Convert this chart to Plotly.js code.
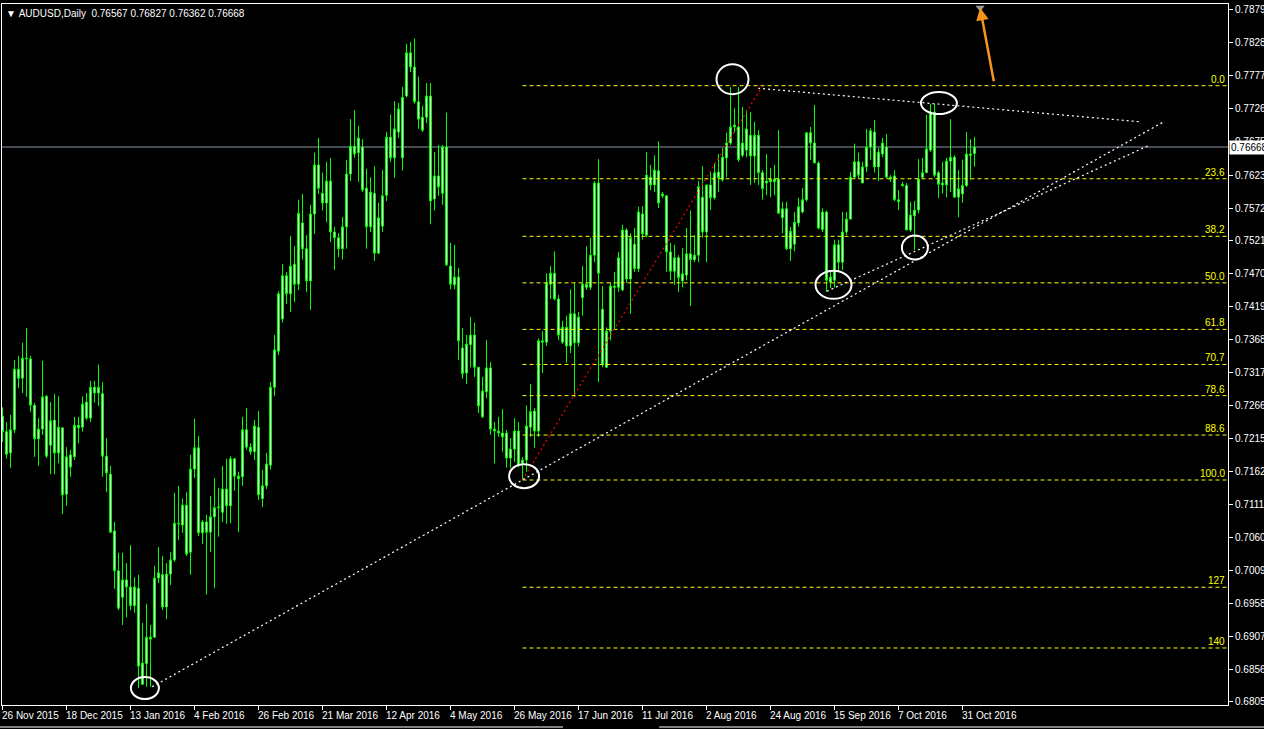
<!DOCTYPE html>
<html><head><meta charset="utf-8">
<script src="https://cdn.plot.ly/plotly-3.0.1.min.js"></script>
<style>html,body{margin:0;padding:0;background:#000;overflow:hidden}#chart{width:1264px;height:729px}</style>
</head><body><div id="chart"></div>
<script>
const symbolName = 'AUDUSD,Daily';
const tickBars = [0,16,32,48,64,80,96,112,128,144,160,176,192,208,224,240];
const tickLabels = ['26 Nov 2015','18 Dec 2015','13 Jan 2016','4 Feb 2016','26 Feb 2016','21 Mar 2016','12 Apr 2016','4 May 2016','26 May 2016','17 Jun 2016','11 Jul 2016','2 Aug 2016','24 Aug 2016','15 Sep 2016','7 Oct 2016','31 Oct 2016'];
const priceTicks = [0.78795,0.78285,0.77775,0.77265,0.76755,0.76230,0.75720,0.75210,0.74700,0.74190,0.73680,0.73170,0.72660,0.72150,0.71625,0.71115,0.70605,0.70095,0.69585,0.69075,0.68565,0.68055];

const openP = [0.7249,0.7225,0.7192,0.7228,0.7322,0.7308,0.7338,0.7338,0.7266,0.7214,
0.7229,0.7280,0.7204,0.7243,0.7192,0.7231,0.7128,0.7189,0.7186,0.7231,
0.7232,0.7271,0.7246,0.7294,0.7285,0.7284,0.7187,0.7159,0.7071,0.7009,
0.6968,0.6995,0.6984,0.6955,0.6982,0.6833,0.6865,0.6906,0.6906,0.6998,
0.7003,0.6953,0.7004,0.7026,0.7083,0.7080,0.7111,0.7038,0.7167,0.7200,
0.7068,0.7085,0.7069,0.7093,0.7107,0.7100,0.7136,0.7110,0.7183,0.7156,
0.7155,0.7228,0.7201,0.7194,0.7232,0.7121,0.7141,0.7173,0.7294,0.7350,
0.7400,0.7467,0.7439,0.7485,0.7454,0.7549,0.7509,0.7459,0.7563,0.7639,
0.7595,0.7580,0.7614,0.7535,0.7526,0.7509,0.7543,0.7625,0.7668,0.7658,
0.7667,0.7603,0.7543,0.7595,0.7502,0.7544,0.7592,0.7682,0.7650,0.7690,
0.7650,0.7746,0.7813,0.7791,0.7737,0.7713,0.7713,0.7746,0.7586,0.7622,
0.7595,0.7667,0.7482,0.7453,0.7465,0.7355,0.7316,0.7360,0.7375,0.7325,
0.7248,0.7287,0.7324,0.7229,0.7226,0.7223,0.7223,0.7184,0.7198,0.7226,
0.7176,0.7181,0.7232,0.7257,0.7226,0.7366,0.7364,0.7454,0.7471,0.7431,
0.7364,0.7387,0.7358,0.7408,0.7363,0.7433,0.7449,0.7449,0.7499,0.7611,
0.7415,0.7325,0.7381,0.7451,0.7449,0.7445,0.7538,0.7462,0.7516,0.7478,
0.7563,0.7530,0.7620,0.7608,0.7630,0.7591,0.7591,0.7504,0.7474,0.7495,
0.7459,0.7468,0.7501,0.7492,0.7499,0.7589,0.7535,0.7608,0.7588,0.7628,
0.7616,0.7650,0.7673,0.7698,0.7698,0.7654,0.7662,0.7685,0.7653,0.7685,
0.7627,0.7611,0.7613,0.7617,0.7617,0.7557,0.7571,0.7509,0.7516,0.7549,
0.7566,0.7585,0.7689,0.7673,0.7642,0.7539,0.7566,0.7457,0.7460,0.7515,
0.7488,0.7535,0.7555,0.7620,0.7644,0.7611,0.7636,0.7667,0.7690,0.7636,
0.7656,0.7667,0.7620,0.7622,0.7585,0.7609,0.7607,0.7538,0.7560,0.7569,
0.7620,0.7627,0.7662,0.7721,0.7627,0.7608,0.7608,0.7645,0.7651,0.7589,
0.7594,0.7607,0.7656,0.76567];
const highP = [0.7263,0.7240,0.7251,0.7336,0.7343,0.7363,0.7386,0.7343,0.7270,0.7246,
0.7335,0.7282,0.7271,0.7284,0.7280,0.7231,0.7201,0.7197,0.7248,0.7248,
0.7280,0.7285,0.7304,0.7304,0.7329,0.7302,0.7215,0.7172,0.7085,0.7037,
0.7037,0.7021,0.7049,0.6999,0.7003,0.6928,0.6958,0.6925,0.7017,0.7046,
0.7032,0.7021,0.7038,0.7130,0.7141,0.7121,0.7131,0.7189,0.7245,0.7218,
0.7088,0.7096,0.7125,0.7153,0.7138,0.7172,0.7183,0.7187,0.7184,0.7163,
0.7248,0.7262,0.7207,0.7243,0.7257,0.7166,0.7192,0.7302,0.7375,0.7443,
0.7485,0.7473,0.7529,0.7513,0.7585,0.7594,0.7530,0.7577,0.7658,0.7681,
0.7627,0.7644,0.7650,0.7543,0.7533,0.7558,0.7647,0.7710,0.7724,0.7700,
0.7679,0.7633,0.7620,0.7637,0.7580,0.7631,0.7690,0.7717,0.7738,0.7735,
0.7760,0.7827,0.7830,0.7835,0.7776,0.7731,0.7766,0.7766,0.7659,0.7670,
0.7670,0.7720,0.7518,0.7515,0.7479,0.7386,0.7375,0.7403,0.7394,0.7325,
0.7310,0.7367,0.7333,0.7240,0.7248,0.7260,0.7228,0.7215,0.7246,0.7240,
0.7186,0.7266,0.7299,0.7262,0.7370,0.7381,0.7471,0.7482,0.7505,0.7437,
0.7397,0.7405,0.7446,0.7456,0.7411,0.7482,0.7513,0.7526,0.7614,0.7648,
0.7451,0.7387,0.7457,0.7473,0.7504,0.7546,0.7541,0.7533,0.7541,0.7574,
0.7575,0.7659,0.7639,0.7654,0.7676,0.7597,0.7592,0.7518,0.7515,0.7499,
0.7510,0.7541,0.7568,0.7530,0.7614,0.7637,0.7608,0.7628,0.7642,0.7656,
0.7665,0.7689,0.7760,0.7727,0.7760,0.7729,0.7724,0.7721,0.7706,0.7693,
0.7631,0.7656,0.7634,0.7639,0.7693,0.7582,0.7582,0.7543,0.7566,0.7588,
0.7603,0.7690,0.7698,0.7732,0.7645,0.7572,0.7568,0.7476,0.7523,0.7523,
0.7566,0.7566,0.7628,0.7672,0.7658,0.7644,0.7695,0.7696,0.7709,0.7665,
0.7681,0.7687,0.7623,0.7631,0.7600,0.7613,0.7611,0.7582,0.7583,0.7648,
0.7650,0.7717,0.7734,0.7734,0.7630,0.7644,0.7650,0.7710,0.7654,0.7631,
0.7647,0.7690,0.7679,0.76827];
const lowP = [0.7209,0.7183,0.7169,0.7223,0.7293,0.7285,0.7279,0.7256,0.7186,0.7172,
0.7220,0.7184,0.7159,0.7159,0.7176,0.7097,0.7110,0.7155,0.7181,0.7207,
0.7225,0.7243,0.7240,0.7270,0.7265,0.7155,0.7131,0.7068,0.6981,0.6948,
0.6925,0.6937,0.6948,0.6944,0.6827,0.6832,0.6829,0.6829,0.6905,0.6990,
0.6948,0.6934,0.6987,0.7023,0.7057,0.7068,0.7032,0.7003,0.7153,0.7063,
0.7051,0.6972,0.7038,0.6982,0.7062,0.7085,0.7082,0.7083,0.7133,0.7069,
0.7141,0.7197,0.7189,0.7181,0.7119,0.7108,0.7136,0.7166,0.7280,0.7344,
0.7394,0.7423,0.7411,0.7426,0.7445,0.7492,0.7442,0.7414,0.7532,0.7594,
0.7568,0.7550,0.7519,0.7476,0.7496,0.7492,0.7509,0.7614,0.7650,0.7613,
0.7597,0.7509,0.7535,0.7490,0.7501,0.7535,0.7583,0.7644,0.7619,0.7681,
0.7630,0.7744,0.7783,0.7734,0.7695,0.7690,0.7704,0.7547,0.7568,0.7591,
0.7577,0.7482,0.7446,0.7446,0.7336,0.7307,0.7299,0.7325,0.7310,0.7254,
0.7246,0.7277,0.7220,0.7176,0.7217,0.7194,0.7169,0.7169,0.7178,0.7170,
0.7150,0.7163,0.7217,0.7200,0.7217,0.7316,0.7358,0.7431,0.7429,0.7367,
0.7361,0.7332,0.7347,0.7279,0.7357,0.7405,0.7445,0.7445,0.7488,0.7302,
0.7325,0.7324,0.7367,0.7383,0.7442,0.7443,0.7456,0.7408,0.7473,0.7473,
0.7523,0.7527,0.7600,0.7597,0.7572,0.7588,0.7473,0.7460,0.7453,0.7442,
0.7449,0.7460,0.7420,0.7488,0.7488,0.7526,0.7488,0.7569,0.7585,0.7597,
0.7613,0.7620,0.7670,0.7689,0.7644,0.7651,0.7651,0.7608,0.7611,0.7608,
0.7585,0.7592,0.7589,0.7592,0.7564,0.7533,0.7507,0.7490,0.7505,0.7543,
0.7564,0.7582,0.7647,0.7642,0.7539,0.7535,0.7442,0.7448,0.7449,0.7473,
0.7476,0.7530,0.7554,0.7620,0.7617,0.7611,0.7628,0.7647,0.7627,0.7614,
0.7651,0.7619,0.7613,0.7583,0.7569,0.7605,0.7538,0.7535,0.7507,0.7564,
0.7617,0.7627,0.7659,0.7620,0.7588,0.7595,0.7589,0.7597,0.7588,0.7558,
0.7580,0.7605,0.7616,0.76362];
const closeP = [0.7225,0.7190,0.7228,0.7322,0.7308,0.7339,0.7339,0.7266,0.7214,0.7229,
0.7279,0.7187,0.7242,0.7192,0.7232,0.7127,0.7186,0.7170,0.7235,0.7235,
0.7268,0.7246,0.7294,0.7285,0.7294,0.7187,0.7161,0.7069,0.7009,0.6951,
0.6995,0.6984,0.6955,0.6984,0.6861,0.6866,0.6906,0.6903,0.6998,0.7006,
0.6953,0.7004,0.7026,0.7083,0.7082,0.7111,0.7035,0.7167,0.7200,0.7068,
0.7085,0.7069,0.7093,0.7107,0.7108,0.7136,0.7110,0.7183,0.7156,0.7152,
0.7228,0.7201,0.7194,0.7234,0.7127,0.7141,0.7175,0.7294,0.7352,0.7439,
0.7467,0.7439,0.7482,0.7454,0.7564,0.7509,0.7459,0.7563,0.7639,0.7603,
0.7580,0.7614,0.7535,0.7526,0.7509,0.7543,0.7625,0.7668,0.7656,0.7681,
0.7600,0.7543,0.7597,0.7502,0.7557,0.7591,0.7682,0.7650,0.7695,0.7726,
0.7744,0.7813,0.7791,0.7737,0.7710,0.7693,0.7746,0.7583,0.7622,0.7605,
0.7667,0.7484,0.7454,0.7465,0.7366,0.7315,0.7361,0.7375,0.7325,0.7265,
0.7288,0.7324,0.7229,0.7226,0.7223,0.7217,0.7184,0.7198,0.7226,0.7173,
0.7181,0.7234,0.7256,0.7226,0.7366,0.7364,0.7456,0.7471,0.7431,0.7375,
0.7387,0.7358,0.7408,0.7363,0.7403,0.7454,0.7454,0.7499,0.7611,0.7471,
0.7329,0.7381,0.7451,0.7449,0.7495,0.7538,0.7462,0.7526,0.7478,0.7566,
0.7532,0.7623,0.7608,0.7631,0.7580,0.7594,0.7504,0.7474,0.7495,0.7464,
0.7470,0.7501,0.7492,0.7499,0.7605,0.7535,0.7608,0.7588,0.7627,0.7619,
0.7651,0.7673,0.7698,0.7701,0.7647,0.7673,0.7695,0.7653,0.7685,0.7627,
0.7602,0.7614,0.7617,0.7613,0.7564,0.7571,0.7509,0.7536,0.7550,0.7574,
0.7585,0.7689,0.7673,0.7642,0.7541,0.7566,0.7460,0.7465,0.7515,0.7488,
0.7535,0.7555,0.7620,0.7644,0.7623,0.7636,0.7667,0.7692,0.7636,0.7659,
0.7673,0.7620,0.7617,0.7585,0.7582,0.7607,0.7538,0.7561,0.7569,0.7617,
0.7627,0.7664,0.7721,0.7623,0.7609,0.7611,0.7645,0.7651,0.7589,0.7602,
0.7607,0.7656,0.7654,0.76668];

// Fibonacci retracement drawn on the chart (anchor bar index, price)
const fibLowBar = 130, fibLowPrice = 0.7150;
const fibHighBar = 190, fibHighPrice = 0.7762;
const fibRatios = [0, 0.236, 0.382, 0.5, 0.618, 0.707, 0.786, 0.886, 1.0, 1.272, 1.426];
const fibLabels = ['0.0','23.6','38.2','50.0','61.8','70.7','78.6','88.6','100.0','127','140'];

// Trend lines: [bar0, price0, bar1, price1]
const trendLines = [
  [37.4, 0.6829, 290.6, 0.7707],
  [206.1, 0.7443, 286.9, 0.7670],
  [188.9, 0.7758, 284.4, 0.7706]
];
// Marked swing points: [bar, price, radiusX px, radiusY px]
const swingMarks = [
  [35.6, 0.6827, 14, 11],
  [130.4, 0.7156, 15, 12],
  [182.5, 0.7772, 16, 15],
  [207.75, 0.7453, 18, 14],
  [234.1, 0.7735, 18, 11],
  [228.1, 0.7511, 13, 12]
];
// Arrow tip [bar, price]
const arrowTip = [244.4, 0.7883];

const n = closeP.length;
const bars = closeP.map((_, i) => i);
const xRange = [-0.125, 306.375];
const yRange = [0.68008, 0.78888];
const lastClose = closeP[n - 1];
const FONT = 'Liberation Sans, Arial, sans-serif';

const candle = {
  type: 'candlestick', x: bars, open: openP, high: highP, low: lowP, close: closeP,
  increasing: {line: {color: '#00ff00', width: 1}, fillcolor: '#ffffff'},
  decreasing: {line: {color: '#00ff00', width: 1}, fillcolor: '#ffffff'},
  whiskerwidth: 0, hoverinfo: 'skip', showlegend: false
};
const marker = {
  type: 'scatter', mode: 'markers', x: [arrowTip[0]], y: [arrowTip[1]], cliponaxis: false,
  marker: {symbol: 'triangle-down', size: 8, color: '#9a9a9a'}, hoverinfo: 'skip', showlegend: false
};

const shapes = [];
const annotations = [];

// current price line
shapes.push({type: 'line', xref: 'paper', x0: 0, x1: 1, yref: 'y', y0: lastClose, y1: lastClose,
  line: {color: '#8a98aa', width: 1}, layer: 'below'});

// fib levels
const fibRange = fibHighPrice - fibLowPrice;
fibRatios.forEach((r, k) => {
  const p = fibHighPrice - r * fibRange;
  shapes.push({type: 'line', xref: 'x', x0: fibLowBar, x1: xRange[1], yref: 'y', y0: p, y1: p,
    line: {color: '#ffff00', width: 1, dash: '4px,3px'}});
  annotations.push({xref: 'paper', x: 1, xanchor: 'right', xshift: -2, yref: 'y', y: p, yanchor: 'bottom',
    text: fibLabels[k], showarrow: false, font: {family: FONT, size: 10, color: '#ffff00'}, borderpad: 0});
});
// fib anchor diagonal
shapes.push({type: 'line', xref: 'x', yref: 'y', x0: fibLowBar, y0: fibLowPrice, x1: fibHighBar, y1: fibHighPrice,
  line: {color: '#ff0000', width: 1.2, dash: '2px,3px'}});

// trend lines
trendLines.forEach(t => shapes.push({type: 'line', xref: 'x', yref: 'y', x0: t[0], y0: t[1], x1: t[2], y1: t[3],
  line: {color: '#ffffff', width: 1.2, dash: '2px,3px'}}));

// circles
swingMarks.forEach(c => shapes.push({type: 'circle', xref: 'x', yref: 'y', xsizemode: 'pixel', ysizemode: 'pixel',
  xanchor: c[0], yanchor: c[1], x0: -c[2], x1: c[2], y0: -c[3], y1: c[3],
  line: {color: '#ffffff', width: 2}}));

// window bottom border
shapes.push({type: 'line', xref: 'paper', yref: 'paper', x0: -0.002, x1: 0.4576, y0: -0.0314, y1: -0.0314, line: {color: '#ffffff', width: 1}});
shapes.push({type: 'line', xref: 'paper', yref: 'paper', x0: 0.536, x1: 1.03, y0: -0.0314, y1: -0.0314, line: {color: '#ffffff', width: 1}});

// arrow
annotations.push({xref: 'x', yref: 'y', x: arrowTip[0], y: arrowTip[1], ax: 14, ay: 75, axref: 'pixel', ayref: 'pixel',
  showarrow: true, arrowhead: 2, arrowsize: 1, arrowwidth: 2.5, arrowcolor: '#f7941d', text: ''});

// header
annotations.push({xref: 'paper', yref: 'paper', x: 0, y: 1, xanchor: 'left', yanchor: 'top', xshift: 3, yshift: -3,
  text: '\u25BC\u00a0' + symbolName + '\u00a0\u00a0' + [openP[n-1], highP[n-1], lowP[n-1], closeP[n-1]].map(v => v.toFixed(5)).join(' '),
  showarrow: false, font: {family: FONT, size: 10, color: '#ffffff'}, borderpad: 0});

// current price box on axis
annotations.push({xref: 'paper', x: 1, xanchor: 'left', xshift: 1, yref: 'y', y: lastClose, yanchor: 'middle',
  text: lastClose.toFixed(5), showarrow: false, bgcolor: '#ffffff', font: {family: FONT, size: 10, color: '#000000'}, borderpad: 1});

// date labels, left aligned on their ticks
tickBars.forEach((b, k) => annotations.push({xref: 'x', x: b, xanchor: 'left', xshift: -2, yref: 'paper', y: 0, yanchor: 'top', yshift: -4,
  text: tickLabels[k], showarrow: false, font: {family: FONT, size: 10, color: '#ffffff'}, borderpad: 0}));

const layout = {
  width: 1264, height: 729,
  margin: {l: 2, r: 36, t: 4, b: 24, pad: 0},
  paper_bgcolor: '#000000', plot_bgcolor: '#000000',
  showlegend: false, dragmode: false, hovermode: false,
  boxgap: 0.35,
  xaxis: {type: 'linear', range: xRange, tickvals: tickBars, showticklabels: false, ticks: 'outside', ticklen: 4,
    tickcolor: '#ffffff', showline: true, mirror: true, linecolor: '#ffffff', linewidth: 1, showgrid: false, zeroline: false,
    rangeslider: {visible: false}, fixedrange: true},
  yaxis: {side: 'right', range: yRange, tickvals: priceTicks, ticktext: priceTicks.map(v => v.toFixed(5)),
    ticks: 'outside', ticklen: 4, tickcolor: '#ffffff', tickfont: {family: FONT, size: 10, color: '#ffffff'},
    showline: true, mirror: true, linecolor: '#ffffff', linewidth: 1, showgrid: false, zeroline: false, fixedrange: true},
  shapes: shapes, annotations: annotations
};

Plotly.newPlot('chart', [candle, marker], layout, {staticPlot: true, displayModeBar: false});
</script>
</body></html>
